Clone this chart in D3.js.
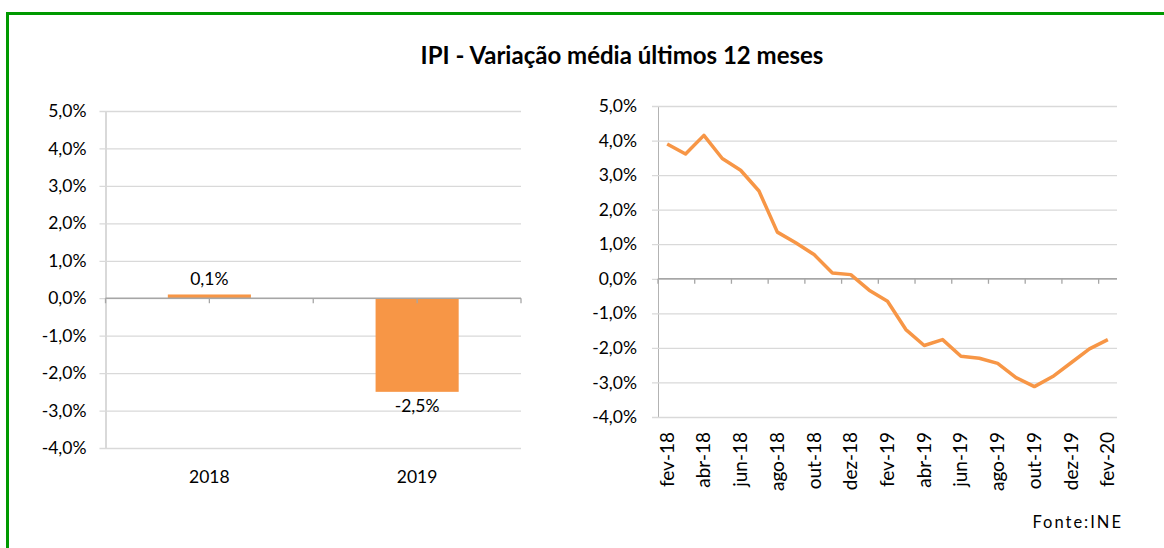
<!DOCTYPE html>
<html>
<head>
<meta charset="utf-8">
<script src="https://cdn.jsdelivr.net/npm/d3@7"></script>
<style>
  body { margin: 0; background: #fff; }
  text { font-family: Lato, "Open Sans", sans-serif; fill: #000; }
</style>
</head>
<body>
<div id="chart"></div>
<script>
// data
const years = ["2018", "2019"];
const yearAvg = [0.1, -2.5];
const yearLabels = ["0,1%", "-2,5%"];

const months = ["fev-18","mar-18","abr-18","mai-18","jun-18","jul-18","ago-18","set-18","out-18","nov-18","dez-18","jan-19",
  "fev-19","mar-19","abr-19","mai-19","jun-19","jul-19","ago-19","set-19","out-19","nov-19","dez-19","jan-20","fev-20"];
const monthAvg = [3.90, 3.61, 4.15, 3.48, 3.14, 2.54, 1.35, 1.04, 0.70, 0.17, 0.12, -0.33,
  -0.65, -1.47, -1.93, -1.76, -2.24, -2.30, -2.45, -2.86, -3.12, -2.83, -2.43, -2.03, -1.76];
const yTicks = [5, 4, 3, 2, 1, 0, -1, -2, -3, -4];

const W = 1164, H = 548;
const orange = "#F79646", grid = "#d9d9d9", axisCol = "#b3b3b3";
const fmt = d => d.toFixed(1).replace(".", ",") + "%";

const svg = d3.select("#chart").append("svg")
    .attr("width", W)
    .attr("height", H);

// green frame (runs off the right and bottom edges)
svg.append("rect")
    .attr("x", 7.5).attr("y", 13.5)
    .attr("width", W + 20).attr("height", H + 20)
    .attr("fill", "none")
    .attr("stroke", "#009900")
    .attr("stroke-width", 3);

svg.append("text")
    .attr("x", 622).attr("y", 64)
    .attr("text-anchor", "middle")
    .style("font-weight", "bold")
    .style("font-size", "24px")
    .text("IPI - Variação média últimos 12 meses");

// ---------- left: yearly bars ----------
const x1 = d3.scaleBand().domain(years).range([105.5, 521]).paddingInner(0.6).paddingOuter(0.3);
const y1 = d3.scaleLinear().domain([-4, 5]).range([448, 111]);

const g1 = svg.append("g");
g1.append("g")
    .attr("transform", "translate(105.5,0)")
    .call(d3.axisLeft(y1).tickValues(yTicks).tickSize(-415.5).tickSizeOuter(0).tickFormat(fmt).tickPadding(19))
    .call(g => g.select(".domain").attr("stroke", axisCol))
    .call(g => g.selectAll(".tick line").attr("stroke", grid).attr("stroke-width", 1.3).attr("x1", -6))
    .call(g => g.selectAll(".tick text").style("font-size", "17.5px").attr("font-family", null));

g1.selectAll("rect.bar")
  .data(years)
  .join("rect")
    .attr("class", "bar")
    .attr("x", d => x1(d))
    .attr("width", x1.bandwidth())
    .attr("y", (d, i) => y1(Math.max(0, yearAvg[i])))
    .attr("height", (d, i) => Math.abs(y1(yearAvg[i]) - y1(0)))
    .attr("fill", orange);

// zero line with ticks
const step1 = x1.step();
g1.append("line")
    .attr("x1", 105.5).attr("x2", 521)
    .attr("y1", y1(0)).attr("y2", y1(0))
    .attr("stroke", "#a6a6a6").attr("stroke-width", 1.5);
g1.selectAll("line.xt")
  .data(d3.range(0, 5))
  .join("line")
    .attr("class", "xt")
    .attr("x1", i => 105.5 + i * step1 / 2)
    .attr("x2", i => 105.5 + i * step1 / 2)
    .attr("y1", y1(0)).attr("y2", y1(0) + 5)
    .attr("stroke", "#a6a6a6").attr("stroke-width", 1.3);

g1.selectAll("text.val")
  .data(years)
  .join("text")
    .attr("class", "val")
    .attr("x", d => x1(d) + x1.bandwidth() / 2)
    .attr("y", (d, i) => yearAvg[i] >= 0 ? y1(yearAvg[i]) - 9 : y1(yearAvg[i]) + 20)
    .attr("text-anchor", "middle")
    .style("font-size", "17.5px")
    .text((d, i) => yearLabels[i]);

g1.selectAll("text.cat")
  .data(years)
  .join("text")
    .attr("class", "cat")
    .attr("x", d => x1(d) + x1.bandwidth() / 2)
    .attr("y", 483)
    .attr("text-anchor", "middle")
    .style("font-size", "17.5px")
    .text(d => d);

// ---------- right: monthly line ----------
const x2 = d3.scaleBand().domain(months).range([658, 1117]);
const y2 = d3.scaleLinear().domain([-4, 5]).range([417, 106]);

const g2 = svg.append("g");
g2.append("g")
    .attr("transform", "translate(658,0)")
    .call(d3.axisLeft(y2).tickValues(yTicks).tickSize(-459).tickSizeOuter(0).tickFormat(fmt).tickPadding(21))
    .call(g => g.select(".domain").attr("stroke", axisCol))
    .call(g => g.selectAll(".tick line").attr("stroke", grid).attr("stroke-width", 1.3).attr("x1", -6))
    .call(g => g.selectAll(".tick text").style("font-size", "17.5px").attr("font-family", null));

g2.append("line")
    .attr("x1", 658).attr("x2", 1117)
    .attr("y1", y2(0)).attr("y2", y2(0))
    .attr("stroke", "#a6a6a6").attr("stroke-width", 1.5);
g2.selectAll("line.xt")
  .data(months.filter((d, i) => i % 2 === 0))
  .join("line")
    .attr("class", "xt")
    .attr("x1", d => x2(d))
    .attr("x2", d => x2(d))
    .attr("y1", y2(0)).attr("y2", y2(0) + 5)
    .attr("stroke", "#a6a6a6").attr("stroke-width", 1.3);

g2.append("path")
    .datum(months)
    .attr("fill", "none")
    .attr("stroke", orange)
    .attr("stroke-width", 3.5)
    .attr("stroke-linejoin", "round")
    .attr("d", d3.line()
      .x(d => x2(d) + x2.bandwidth() / 2)
      .y((d, i) => y2(monthAvg[i])));

g2.selectAll("text.mon")
  .data(months.filter((d, i) => i % 2 === 0))
  .join("text")
    .attr("class", "mon")
    .attr("transform", d => `translate(${x2(d) + x2.bandwidth() / 2 + 6.5},432) rotate(-90)`)
    .attr("text-anchor", "end")
    .style("font-size", "19px")
    .text(d => d);

svg.append("text")
    .attr("x", 1123).attr("y", 528)
    .attr("text-anchor", "end")
    .style("font-size", "16.5px")
    .style("letter-spacing", "2px")
    .text("Fonte:INE");
</script>
</body>
</html>
